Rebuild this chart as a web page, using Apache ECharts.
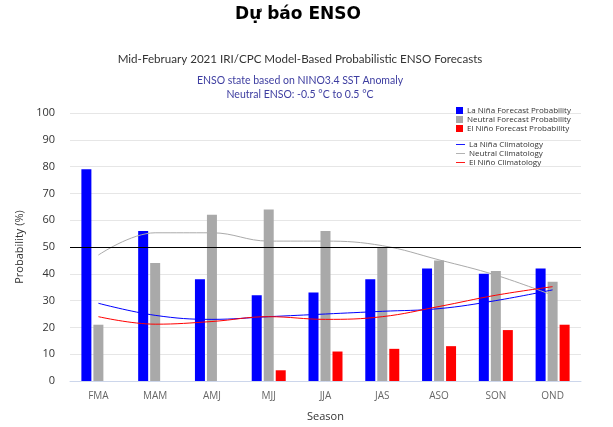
<!DOCTYPE html>
<html><head><meta charset="utf-8">
<script src="https://cdn.jsdelivr.net/npm/echarts@6/dist/echarts.min.js"></script>
<style>html,body{margin:0;padding:0;background:#fff}#c{width:613px;height:427px}</style>
</head><body><div id="c"></div>
<script>
const seasons = ['FMA','MAM','AMJ','MJJ','JJA','JAS','ASO','SON','OND'];
const laninaProb = [79,56,38,32,33,38,42,40,42];
const neutralProb = [21,44,62,64,56,50,45,41,37];
const elninoProb = [0,0,0,4,11,12,13,19,21];
const laninaClim = [29,24.5,23,24,25,26,27,30,34];
const neutralClim = [47,55.3,55.3,52.2,52.2,50.5,45.2,39.5,32];
const elninoClim = [24,21.2,22.2,24,23,24,27.8,32,35.2];
const yTicks = [0,10,20,30,40,50,60,70,80,90,100];

const F = '"Open Sans", sans-serif';
const L = 'Lato, sans-serif';
const chart = echarts.init(document.getElementById('c'));
chart.setOption({
  animation:false,
  backgroundColor:'#fff',
  title:[
    {text:'Dự báo ENSO',left:293,textAlign:'center',top:1,textStyle:{fontFamily:'"DejaVu Sans", Verdana',fontWeight:'bold',fontSize:17,color:'#000'}},
    {text:'Mid-February 2021 IRI/CPC Model-Based Probabilistic ENSO Forecasts',left:295,textAlign:'center',top:48,textStyle:{fontFamily:L,fontWeight:'normal',fontSize:11.6,color:'#333'}},
    {text:'ENSO state based on NINO3.4 SST Anomaly\nNeutral ENSO: -0.5 °C to 0.5 °C',left:295,textAlign:'center',top:68,textStyle:{fontFamily:L,fontWeight:'normal',fontSize:10.5,color:'#3d3da0',lineHeight:14.5,align:'center'}}
  ],
  legend:[
    {data:['La Niña Forecast Probability','Neutral Forecast Probability','El Niño Forecast Probability'],orient:'vertical',left:451,top:101.5,itemWidth:7,itemHeight:7,itemGap:1,icon:'rect',textStyle:{fontFamily:F,fontSize:8,color:'#333',padding:[0,0,0,-1]}},
    {data:['La Niña Climatology','Neutral Climatology','El Niño Climatology'],orient:'vertical',left:451,top:135.5,itemWidth:9,itemHeight:7,itemGap:1,icon:'path://M0,3 L10,3 L10,4 L0,4 Z',textStyle:{fontFamily:F,fontSize:8,color:'#333',padding:[0,0,0,-1]}}
  ],
  grid:{left:70,right:32,top:113,bottom:46},
  xAxis:{type:'category',data:seasons,name:'Season',nameLocation:'middle',nameGap:30,
    nameTextStyle:{fontFamily:F,fontSize:11,color:'#333'},
    axisLine:{lineStyle:{color:'#ccd6eb'}},axisTick:{show:false},
    axisLabel:{fontFamily:F,fontSize:10,color:'#666',margin:10}},
  yAxis:{type:'value',min:0,max:100,interval:10,name:'Probability (%)',nameLocation:'middle',nameGap:44,
    nameTextStyle:{fontFamily:F,fontSize:11,color:'#333'},
    axisLine:{show:false},axisTick:{show:false},
    axisLabel:{fontFamily:F,fontSize:11,color:'#333',margin:15},
    splitLine:{lineStyle:{color:'#e6e6e6'}}},
  series:[
    {name:'La Niña Forecast Probability',type:'bar',data:laninaProb,barWidth:10,barGap:'20%',itemStyle:{color:'#0000ff'},
      markLine:{silent:true,symbol:'none',label:{show:false},lineStyle:{color:'#000',width:1,type:'solid'},data:[{yAxis:50}]}},
    {name:'Neutral Forecast Probability',type:'bar',data:neutralProb,barWidth:10,barGap:'20%',itemStyle:{color:'#a9a9a9'}},
    {name:'El Niño Forecast Probability',type:'bar',data:elninoProb,barWidth:10,barGap:'20%',itemStyle:{color:'#ff0000'}},
    {name:'La Niña Climatology',type:'line',smooth:0.4,data:laninaClim,symbol:'none',lineStyle:{color:'#0000ff',width:1},itemStyle:{color:'#0000ff'}},
    {name:'Neutral Climatology',type:'line',smooth:0.4,data:neutralClim,symbol:'none',lineStyle:{color:'#aaaaaa',width:1},itemStyle:{color:'#aaaaaa'}},
    {name:'El Niño Climatology',type:'line',smooth:0.4,data:elninoClim,symbol:'none',lineStyle:{color:'#ff0000',width:1},itemStyle:{color:'#ff0000'}}
  ]
});
</script></body></html>
